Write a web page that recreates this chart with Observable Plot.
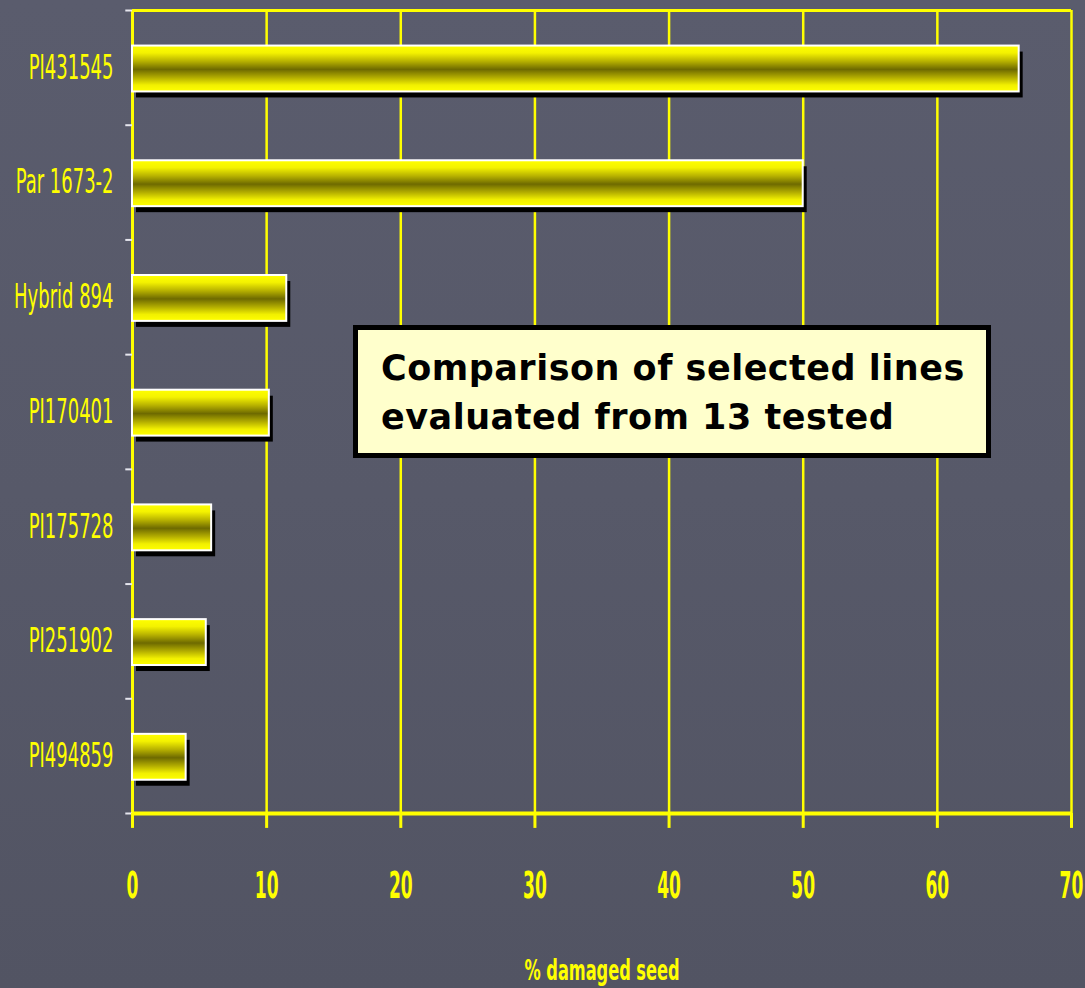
<!DOCTYPE html>
<html>
<head>
<meta charset="utf-8">
<script src="https://cdn.jsdelivr.net/npm/d3@7"></script>
<script src="https://cdn.jsdelivr.net/npm/@observablehq/plot@0.6"></script>
<style>
  html, body { margin: 0; padding: 0; }
  body { background: #575969; }
  #wrap { position: relative; width: 1085px; height: 988px; overflow: hidden;
          background: linear-gradient(180deg, #5a5c6d 0%, #575969 50%, #525463 100%); }
  #chart { position: absolute; left: 0; top: 0; }
  #note { position: absolute; left: 353px; top: 325px; width: 638px; height: 133px;
          box-sizing: border-box; border: 5.5px solid #000; background: #ffffcc;
          font-family: "DejaVu Sans", sans-serif; font-weight: bold; font-size: 35px;
          line-height: 49px; color: #000; padding: 14px 0 0 23px; letter-spacing: 0.5px; }
</style>
</head>
<body>
<div id="wrap">
  <div id="chart"></div>
  <div id="note">Comparison of selected lines<br>evaluated from 13 tested</div>
</div>
<script>
// ---- data ----
const lines = ["PI431545", "Par 1673-2", "Hybrid 894", "PI170401", "PI175728", "PI251902", "PI494859"];
const damaged = [66.1, 50.0, 11.5, 10.2, 5.9, 5.5, 4.0];
const xTicks = [0, 10, 20, 30, 40, 50, 60, 70];
const xLabel = "% damaged seed";

const rows = lines.map((name, i) => ({name, value: damaged[i], i}));
const bandEdges = d3.range(lines.length + 1);

const YEL = "#ffff00";
const narrow = "'DejaVu Sans Condensed', 'Liberation Sans Narrow', sans-serif";

const chart = Plot.plot({
  width: 1085,
  height: 988,
  marginLeft: 132,
  marginRight: 14,
  marginTop: 10,
  marginBottom: 175,
  style: {background: "transparent", overflow: "visible"},
  x: {domain: [0, 70], axis: null},
  y: {domain: [0, lines.length], range: [10, 813], axis: null},
  marks: [
    Plot.ruleX(xTicks.slice(1), {stroke: YEL, strokeWidth: 2.5}),
    Plot.ruleY([0], {stroke: YEL, strokeWidth: 3}),
    Plot.ruleX([0], {stroke: YEL, strokeWidth: 3}),
    Plot.ruleY(bandEdges, {x1: -0.5, x2: 0, stroke: "#e6e6ee", strokeWidth: 2}),
    Plot.rectX(rows, {x1: 0, x2: "value", y1: d => d.i + 0.31, y2: d => d.i + 0.71,
                      fill: "#000", dx: 4, dy: 6}),
    Plot.rectX(rows, {x1: 0, x2: "value", y1: d => d.i + 0.31, y2: d => d.i + 0.71,
                      fill: "url(#barGrad)", stroke: "#ffffff", strokeWidth: 2}),
    Plot.ruleY([lines.length], {stroke: YEL, strokeWidth: 4}),
    Plot.ruleX(xTicks, {y1: lines.length, y2: lines.length + 0.13, stroke: YEL, strokeWidth: 3}),
    Plot.text(rows, {x: 0, y: d => d.i + 0.5, text: "name", textAnchor: "end", dx: -19,
                     fill: YEL, fontSize: 20, fontFamily: narrow}),
    Plot.text(xTicks, {x: d => d, y: lines.length, dy: 72, text: d => String(d),
                       fill: YEL, fontSize: 19, fontWeight: "bold", fontFamily: narrow}),
    Plot.text([xLabel], {x: 35, y: lines.length, dy: 157, text: d => d,
                         fill: YEL, fontSize: 18, fontWeight: "bold", fontFamily: narrow})
  ]
});

const ns = "http://www.w3.org/2000/svg";
const defs = document.createElementNS(ns, "defs");
defs.innerHTML = `
  <linearGradient id="barGrad" x1="0" y1="0" x2="0" y2="1">
    <stop offset="0" stop-color="#ffff00"/>
    <stop offset="0.16" stop-color="#f4f200"/>
    <stop offset="0.34" stop-color="#b8b200"/>
    <stop offset="0.52" stop-color="#6e6a00"/>
    <stop offset="0.7" stop-color="#b4ae00"/>
    <stop offset="0.86" stop-color="#f2f000"/>
    <stop offset="1" stop-color="#ffff00"/>
  </linearGradient>`;
chart.insertBefore(defs, chart.firstChild);

// vertical stretch of the condensed labels (tall, narrow lettering as in the reference)
const yNames = new Set(lines), xNames = new Set(xTicks.map(String));
chart.querySelectorAll("text").forEach(t => {
  const s = t.textContent;
  const k = yNames.has(s) ? 1.7 : xNames.has(s) ? 2.0 : s === xLabel ? 1.6 : 1;
  if (k === 1) return;
  const tr = t.getAttribute("transform") || "";
  const x = +t.getAttribute("x") || 0, y = +t.getAttribute("y") || 0;
  t.setAttribute("transform", `${tr} translate(${x},${y}) scale(1,${k}) translate(${-x},${-y})`);
});

document.getElementById("chart").appendChild(chart);
</script>
</body>
</html>
